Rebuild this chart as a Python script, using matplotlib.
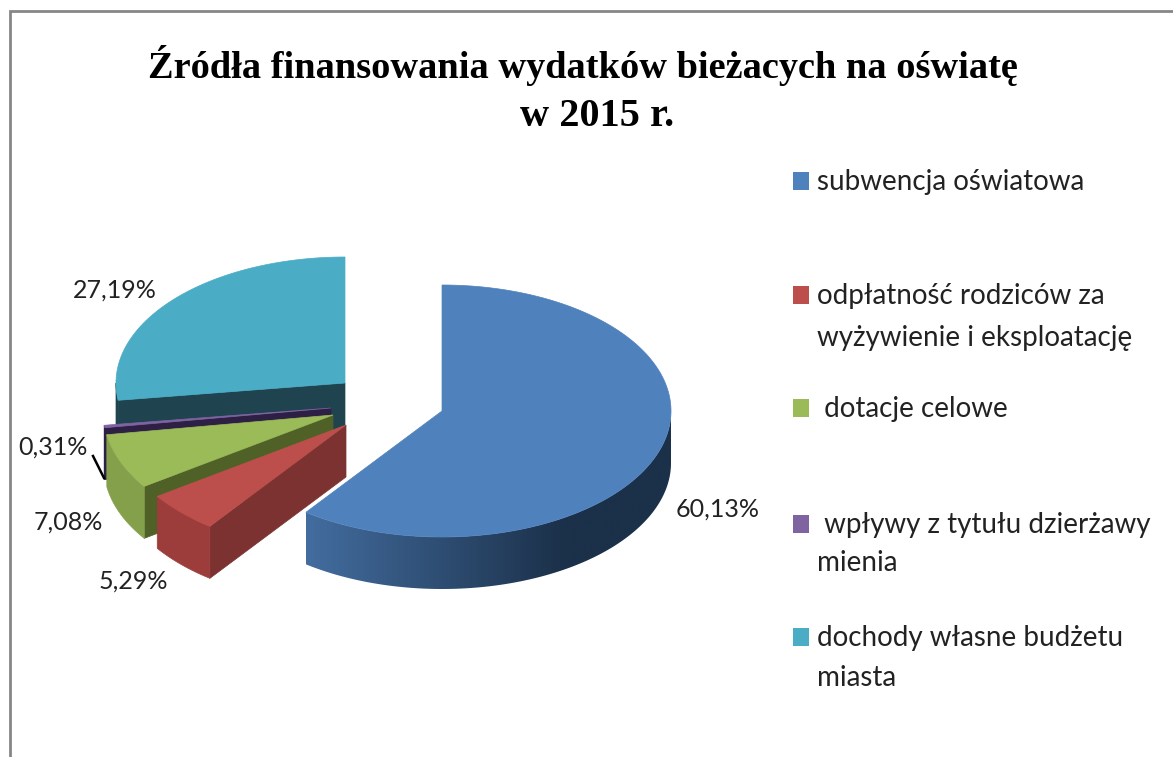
import matplotlib
matplotlib.use("Agg")
import matplotlib.pyplot as plt
import numpy as np
from matplotlib.collections import PolyCollection
from matplotlib.colors import LinearSegmentedColormap
from matplotlib.patches import Polygon, Rectangle

# data
categories = ["subwencja oświatowa",
              "odpłatność rodziców za\nwyżywienie i eksploatację",
              " dotacje celowe",
              " wpływy z tytułu dzierżawy\nmienia",
              "dochody własne budżetu\nmiasta"]
values = [60.13, 5.29, 7.08, 0.31, 27.19]
pct_labels = ["60,13%", "5,29%", "7,08%", "0,31%", "27,19%"]

top_colors = ["#4f81bd", "#bc4f4c", "#9bbb59", "#8064a2", "#4bacc6"]
rim_colors = ["#436d9f", "#9c3d3b", "#84a04a", "#2e1f44", "#1f4450"]
face_colors = ["#1b3049", "#7b3230", "#4f6126", "#2e1f44", "#1f4450"]

# pie centres after the explosion, in pixels
centres = [(442, 411), (346, 425), (333, 415), (331, 408), (345, 383)]
label_pos = [(718, 509), (133, 581), (68, 522), (53, 447), (115, 290)]
legend_y = [182, 296, 409, 525, 638]
line_step = [0, 42, 0, 38, 40]

RX, RY = 229, 126
DEPTH = 52

fig = plt.figure(figsize=(11.73, 7.57), dpi=100)
ax = fig.add_axes([0, 0, 1, 1])
ax.axis('off')

# frame of the pasted chart
ax.plot([10, 10, 1173], [757, 11, 11], color="#868686", lw=2, solid_joinstyle='miter')


def ring(cx, cy, angles):
    return cx + RX * np.cos(angles), cy - RY * np.sin(angles)


starts = 90 - np.cumsum([0] + values[:-1]) * 3.6
stops = 90 - np.cumsum(values) * 3.6

# back slices first, blue one last
for i in [4, 3, 2, 1, 0]:
    cx, cy = centres[i]
    th = np.radians(np.linspace(starts[i], stops[i], 300))
    x, y = ring(cx, cy, th)

    # cut face on the lower edge of the slice
    ax.add_patch(Polygon([(cx, cy), (x[0], y[0]), (x[0], y[0] + DEPTH), (cx, cy + DEPTH)],
                         closed=True, fc=face_colors[i], ec=face_colors[i], lw=0.5))

    # outer rim, only the part that faces the viewer
    front = np.sin(th) <= 0
    xf, yf = x[front], y[front]
    rim = np.column_stack([np.r_[xf, xf[::-1]], np.r_[yf, yf[::-1] + DEPTH]])
    if i == 0:
        # rim of the big slice darkens to the right, drawn as a clipped gradient
        cmap = LinearSegmentedColormap.from_list("rim", [rim_colors[0], face_colors[0]])
        grad = np.clip((np.linspace(xf.min(), xf.max(), 400) - xf.min()) / 260, 0, 1)[None, :]
        img = ax.imshow(grad, cmap=cmap, vmin=0, vmax=1, aspect='auto', interpolation='bilinear',
                        extent=(xf.min(), xf.max(), yf.max() + DEPTH, yf.min()))
        patch = Polygon(rim, closed=True, fc='none', ec='none', transform=ax.transData)
        ax.add_patch(patch)
        img.set_clip_path(patch)
    else:
        ax.add_patch(Polygon(rim, closed=True, fc=rim_colors[i], ec=rim_colors[i], lw=0.5))

    # top surface
    ax.add_patch(Polygon(np.column_stack([np.r_[cx, x], np.r_[cy, y]]), closed=True,
                         fc=top_colors[i], ec=top_colors[i], lw=0.5))

# leader line of the smallest slice
ax.plot([93, 104], [456, 478], color="black", lw=1.8)

pct_font = dict(family="Lato", color="#222222", fontsize=18)
for lab, pos in zip(pct_labels, label_pos):
    ax.text(pos[0], pos[1], lab, ha='center', va='center', **pct_font)

legend_font = dict(family="Lato", color="#222222", fontsize=20)
for i, name in enumerate(categories):
    ax.add_patch(Rectangle((793, legend_y[i] - 10), 16, 18, fc=top_colors[i], ec='none'))
    parts = name.split("\n")
    ax.text(817, legend_y[i], parts[0], ha='left', va='center', **legend_font)
    if len(parts) > 1:
        ax.text(817, legend_y[i] + line_step[i], parts[1], ha='left', va='center', **legend_font)

ax.text(583, 65, "Źródła finansowania wydatków bieżacych na oświatę", ha='center', va='center',
        family="Liberation Serif", weight='bold', fontsize=27.6, color="black")
ax.text(597, 117, "w 2015 r.", ha='center', va='center',
        family="Liberation Serif", weight='bold', fontsize=29, color="black")

ax.set_xlim(0, 1173)
ax.set_ylim(757, 0)

fig.savefig("out.png", dpi=100)
